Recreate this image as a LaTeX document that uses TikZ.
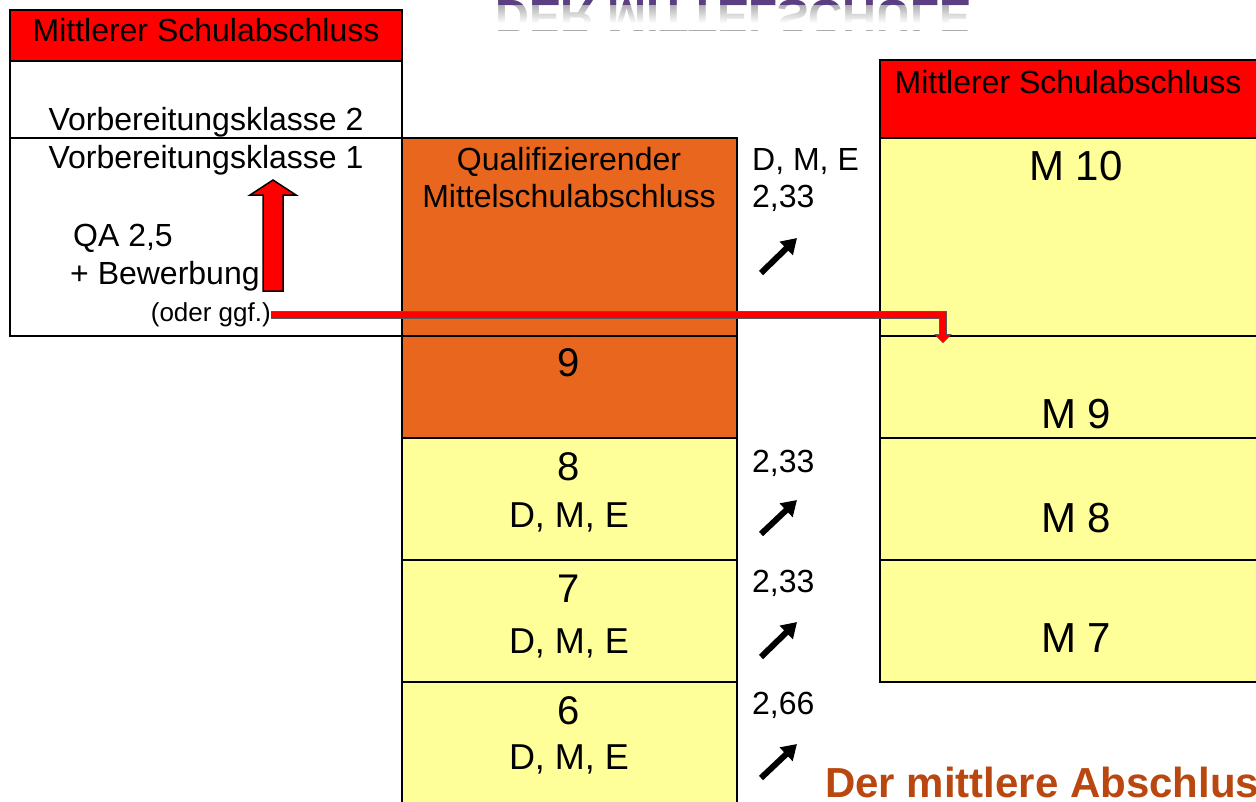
\documentclass[tikz,border=0pt]{standalone}
\usepackage{fontspec}
\setmainfont{Liberation Sans}
\usetikzlibrary{arrows.meta,fadings}
\definecolor{msred}{HTML}{FF0000}
\definecolor{qorange}{HTML}{E9661E}
\definecolor{myellow}{HTML}{FFFF99}
\definecolor{abrown}{HTML}{B9470F}
\definecolor{tpurple}{HTML}{5B3F82}
\tikzfading[name=fadeup, top color=transparent!100, bottom color=transparent!0]

\begin{document}
\begin{tikzpicture}[x=1pt, y=-1pt,
	box/.style={draw=black, line width=2pt, anchor=north west, inner sep=0pt, outer sep=0pt},
	lbl/.style={inner sep=0pt, anchor=base, font=\fontsize{32}{38}\selectfont},
	big/.style={lbl, font=\fontsize{42}{50}\selectfont},
	num/.style={lbl, font=\fontsize{40}{48}\selectfont},
	fach/.style={lbl, font=\fontsize{36}{43}\selectfont},
	ttl/.style={lbl, font=\bfseries\fontsize{47}{56}\selectfont, yscale=-1, transform shape},
	up/.style={line width=6pt, -{Triangle[length=15pt, width=18pt]}},
	jump/.style={draw=msred, line width=6pt, -{Triangle[length=8pt, width=15pt]},
		preaction={draw=black!65, line width=8pt, -{Triangle[length=9pt, width=17pt]}}}]
			\useasboundingbox (0,0) rectangle (1256,801);
			
			\begin{scope}
			\clip (400,0) rectangle (1000,30);
			\node[ttl, text=gray!65] (ttl) at (733,0) {DER MITTELSCHULE};
			\fill[white, path fading=fadeup] (400,4) rectangle (1000,23);
			\fill[white] (400,23) rectangle (1000,30);
			\end{scope}
			\begin{scope}
			\clip (400,0) rectangle (1000,4);
			\node[ttl, text=tpurple] (ttlb) at (733,0) {DER MITTELSCHULE};
			\end{scope}
			
			\node[box, fill=msred, minimum width=392pt, minimum height=51pt] (msl) at (10,10) {};
			\node[box, fill=white, minimum width=392pt, minimum height=77pt] (vk2) at (10,61) {};
			\node[box, fill=white, minimum width=392pt, minimum height=198pt] (vk1) at (10,138) {};
			
			\node[box, fill=qorange, minimum width=335pt, minimum height=198pt] (qa) at (402,138) {};
			\node[box, fill=qorange, minimum width=335pt, minimum height=102pt] (k9) at (402,336) {};
			\node[box, fill=myellow, minimum width=335pt, minimum height=122pt] (k8) at (402,438) {};
			\node[box, fill=myellow, minimum width=335pt, minimum height=122pt] (k7) at (402,560) {};
			\node[box, fill=myellow, minimum width=335pt, minimum height=140pt] (k6) at (402,682) {};
			
			\node[box, fill=msred, minimum width=390pt, minimum height=78pt] (msr) at (880,60) {};
			\node[box, fill=myellow, minimum width=390pt, minimum height=198pt] (m10) at (880,138) {};
			\node[box, fill=myellow, minimum width=390pt, minimum height=102pt] (m9) at (880,336) {};
			\node[box, fill=myellow, minimum width=390pt, minimum height=122pt] (m8) at (880,438) {};
			\node[box, fill=myellow, minimum width=390pt, minimum height=122pt] (m7) at (880,560) {};
			
			\node[lbl] (tmsl) at (206,41) {Mittlerer Schulabschluss};
			\node[lbl] (tvk2) at (206,130) {Vorbereitungsklasse 2};
			\node[lbl] (tvk1) at (206,168) {Vorbereitungsklasse 1};
			\node[lbl, anchor=base west] (tqa) at (73,246) {QA 2,5};
			\node[lbl, anchor=base west] (tbew) at (70,284) {+ Bewerbung};
			\node[lbl, anchor=east, font=\fontsize{26}{31}\selectfont] (ogg) at (271,315) {(oder ggf.)};
			
			\node[lbl] (tq1) at (569,170) {Qualifizierender};
			\node[lbl] (tq2) at (569,207) {Mittelschulabschluss};
			\node[num] (t9) at (569,376) {9};
			\node[num] (t8) at (569,480) {8};
			\node[fach] (f8) at (569,527) {D, M, E};
			\node[num] (t7) at (569,602) {7};
			\node[fach] (f7) at (569,653) {D, M, E};
			\node[num] (t6) at (569,724) {6};
			\node[fach] (f6) at (569,769) {D, M, E};
			
			\node[lbl, anchor=base west] (g1) at (752,170) {D, M, E};
			\node[lbl, anchor=base west] (g2) at (752,207) {2,33};
			\node[lbl, anchor=base west] (g3) at (752,472) {2,33};
			\node[lbl, anchor=base west] (g4) at (752,592) {2,33};
			\node[lbl, anchor=base west] (g5) at (752,714) {2,66};
			
			\node[lbl] (tmsr) at (1068,93) {Mittlerer Schulabschluss};
			\node[big] (tm10) at (1076,180) {M 10};
			\node[big] (tm9) at (1076,428) {M 9};
			\node[big] (tm8) at (1076,532) {M 8};
			\node[big] (tm7) at (1076,652) {M 7};
			
			\node[lbl, anchor=base west, font=\bfseries\fontsize{42}{50}\selectfont, text=abrown] (tabs) at (825,797) {Der mittlere Abschluss};
			
			\draw[line width=1.5pt, fill=msred] (263,291) -- (263,195) -- (250,195) -- (273,180) -- (296,195) -- (283,195) -- (283,291) -- cycle;
			
			\coordinate (s1) at (761,273);
			\coordinate (e1) at (797,238);
			\coordinate (s2) at (761,534);
			\coordinate (e2) at (797,500);
			\coordinate (s3) at (761,657);
			\coordinate (e3) at (797,622);
			\coordinate (s4) at (761,778);
			\coordinate (e4) at (797,744);
			\draw[up] (s1) -- (e1);
			\draw[up] (s2) -- (e2);
			\draw[up] (s3) -- (e3);
			\draw[up] (s4) -- (e4);
			
			\coordinate (m9in) at (943,343);
			\draw[jump] (ogg.east) -| (m9in);
			\end{tikzpicture}
\end{document}
